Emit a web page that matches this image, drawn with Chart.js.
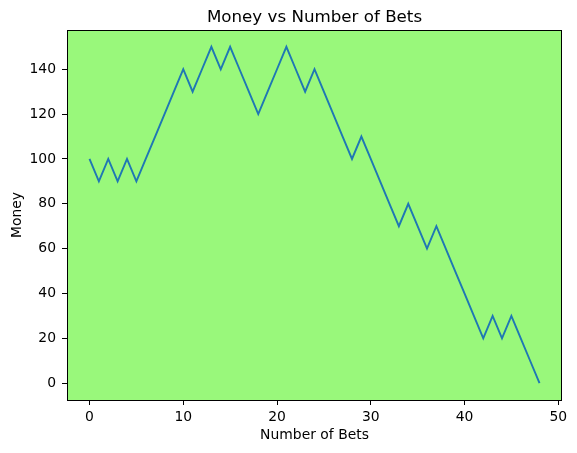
<!DOCTYPE html>
<html>
<head>
<meta charset="utf-8">
<style>
  body { margin: 0; background: #fff; }
  canvas { display: block; }
</style>
<script src="https://cdn.jsdelivr.net/npm/chart.js@4/dist/chart.umd.min.js"></script>
</head>
<body>
<canvas id="myChart" width="577" height="453"></canvas>
<script>
// number of bets played (x) and money left after each bet (y)
const bets = [];
for (let i = 0; i <= 48; i++) bets.push(i);
const money = [100, 90, 100, 90, 100, 90, 100, 110, 120, 130,
               140, 130, 140, 150, 140, 150, 140, 130, 120, 130,
               140, 150, 140, 130, 140, 130, 120, 110, 100, 110,
               100, 90, 80, 70, 80, 70, 60, 70, 60, 50,
               40, 30, 20, 30, 20, 30, 20, 10, 0];
const xTicks = [0, 10, 20, 30, 40, 50];
const yTicks = [0, 20, 40, 60, 80, 100, 120, 140];

const FONT = 'DejaVu Sans';

// green axes background + box around it + title over the plot
const axesBox = {
  id: 'axesBox',
  beforeDraw(chart) {
    const {ctx, chartArea: a} = chart;
    ctx.save();
    ctx.fillStyle = '#99f87b';
    ctx.fillRect(a.left, a.top, a.right - a.left, a.bottom - a.top);
    ctx.restore();
  },
  afterDraw(chart) {
    const {ctx, chartArea: a} = chart;
    ctx.save();
    ctx.strokeStyle = '#000';
    ctx.lineWidth = 1;
    ctx.strokeRect(a.left + 0.5, a.top + 0.5, a.right - a.left - 1, a.bottom - a.top);
    ctx.fillStyle = '#000';
    ctx.font = '16.7px "' + FONT + '"';
    ctx.textAlign = 'center';
    ctx.textBaseline = 'alphabetic';
    ctx.fillText('Money vs Number of Bets', (a.left + a.right) / 2, 21.5);
    ctx.restore();
  }
};

const ctx = document.getElementById('myChart').getContext('2d');
const myChart = new Chart(ctx, {
  type: 'line',
  data: {
    datasets: [{
      label: 'Money',
      data: bets.map((b, i) => ({x: b, y: money[i]})),
      borderColor: '#1f77b4',
      borderWidth: 1.9,
      pointRadius: 0,
      tension: 0,
      fill: false
    }]
  },
  options: {
    responsive: false,
    animation: false,
    devicePixelRatio: 1,
    layout: { padding: { top: 30, right: 15, left: 0, bottom: 0 } },
    plugins: {
      legend: { display: false },
      tooltip: { enabled: false }
    },
    scales: {
      x: {
        type: 'linear',
        min: -2.4,
        max: 50.4,
        afterBuildTicks: (s) => { s.ticks = xTicks.map(v => ({value: v})); },
        afterFit: (s) => { s.height = 53; },
        grid: { drawOnChartArea: false, drawTicks: true, tickLength: 5, color: '#000' },
        border: { display: false },
        ticks: { color: '#000', padding: 4, maxRotation: 0, font: { family: FONT, size: 13.9 } },
        title: { display: true, text: 'Number of Bets', color: '#000', padding: { bottom: 9.5, top: 0 },
                 font: { family: FONT, size: 13.9 } }
      },
      y: {
        min: -7.5,
        max: 157.5,
        afterBuildTicks: (s) => { s.ticks = yTicks.map(v => ({value: v})); },
        afterFit: (s) => { s.width = 67; },
        grid: { drawOnChartArea: false, drawTicks: true, tickLength: 5, color: '#000' },
        border: { display: false },
        ticks: { color: '#000', padding: 6, font: { family: FONT, size: 13.9 } },
        title: { display: true, text: 'Money', color: '#000', padding: { top: 8.6, bottom: 0 },
                 font: { family: FONT, size: 13.9 } }
      }
    }
  },
  plugins: [axesBox]
});
</script>
</body>
</html>
